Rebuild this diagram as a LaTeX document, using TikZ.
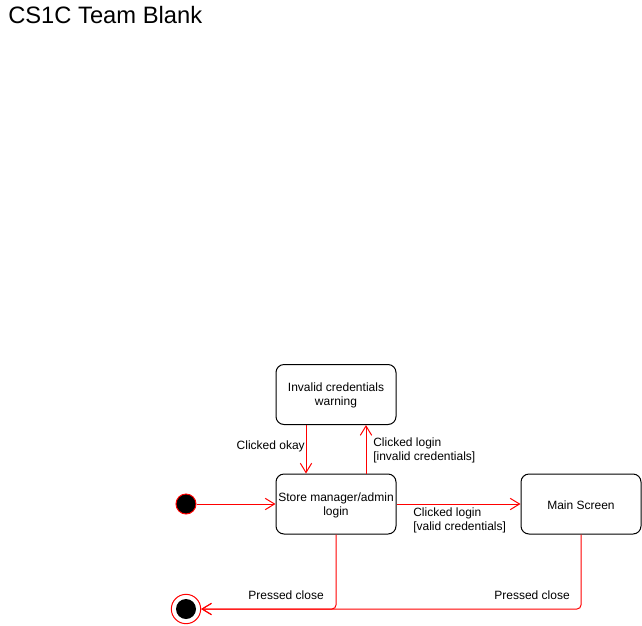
\documentclass[tikz,border=0pt]{standalone}
\usepackage{fontspec}
\setmainfont{Liberation Sans}
\usetikzlibrary{arrows.meta}
\begin{document}
\begin{tikzpicture}[x=0.75pt,y=-0.75pt,
  statebox/.style={draw=black,line width=0.75pt,rounded corners=6pt,minimum width=90pt,minimum height=45pt,align=center,inner sep=0pt,font=\fontsize{9pt}{10.5pt}\selectfont},
  trans/.style={draw=red,line width=0.75pt,-{Straight Barb[length=7pt,width=8.5pt]}},
  lbl/.style={inner sep=0pt,align=left,font=\fontsize{9pt}{10.5pt}\selectfont}]
\useasboundingbox (0,0) rectangle (642,625);
\node[anchor=base west,inner sep=0pt,font=\fontsize{17.8pt}{20pt}\selectfont] (title) at (8,23) {CS1C Team Blank};
\node[statebox] (inv) at (336,394.5) {\rule{0pt}{8pt}Invalid credentials\\warning};
\node[statebox] (store) at (336,504) {\rule{0pt}{8pt}Store manager/admin\\login};
\node[statebox] (main) at (581,504) {\rule{0pt}{8pt}Main Screen};
\node[circle,draw=red,fill=black,line width=0.75pt,minimum size=15pt,inner sep=0pt] (init) at (186,504) {};
\node[circle,draw=red,line width=0.75pt,minimum size=22pt,inner sep=0pt] (fin) at (186,609) {};
\node[circle,fill=black,minimum size=15pt,inner sep=0pt] (finin) at (186,609) {};
\draw[trans] (init) -- (store);
\draw[trans] (inv.south -| 306,0) -- (store.north -| 306,0);
\draw[trans] (store.north -| 366,0) -- (inv.south -| 366,0);
\draw[trans] (store) -- (main);
\draw[trans,rounded corners=3pt] (store.south) |- (fin);
\draw[trans,rounded corners=3pt] (main.south) |- (fin);
\node[lbl,anchor=east] (l1) at (305,446) {Clicked okay};
\node[lbl,anchor=west] (l2) at (373,450.5) {Clicked login\\{[invalid credentials]}};
\node[lbl,anchor=west] (l3) at (413,520) {Clicked login\\{[valid credentials]}};
\node[lbl,anchor=east] (l4) at (324,595) {Pressed close};
\node[lbl,anchor=east] (l5) at (570,595) {Pressed close};
\end{tikzpicture}
\end{document}
